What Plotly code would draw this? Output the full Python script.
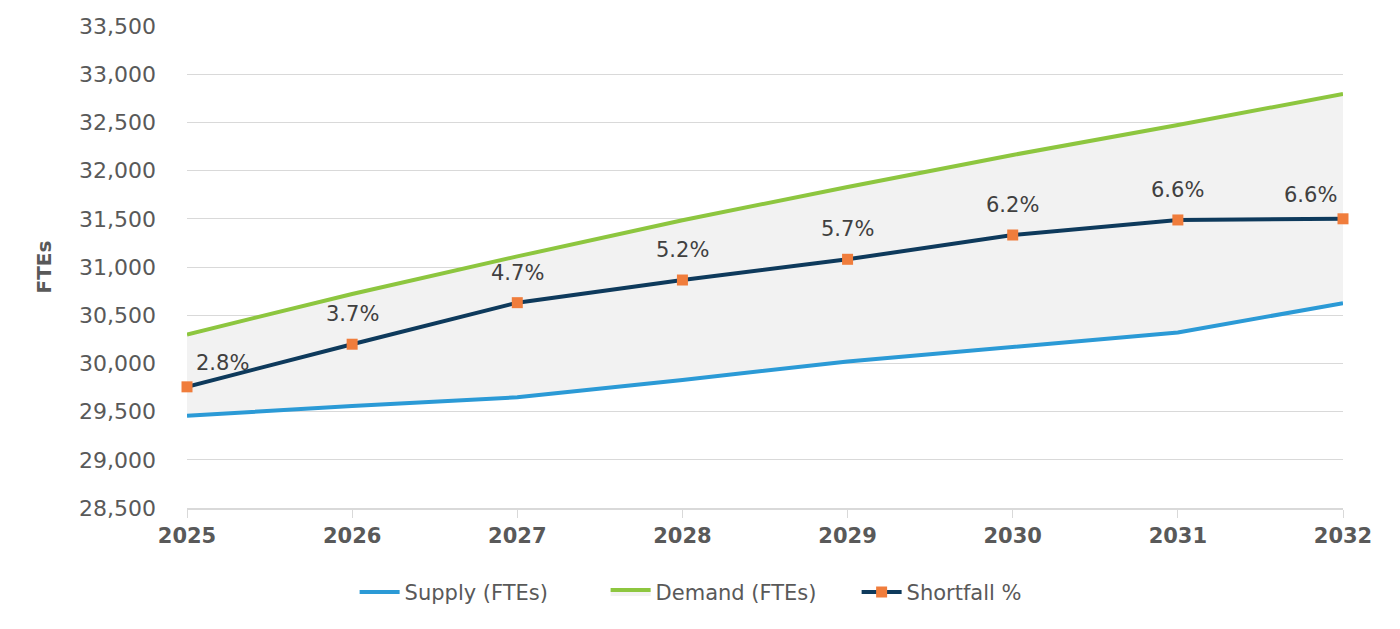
import plotly.graph_objects as go

years = [2025, 2026, 2027, 2028, 2029, 2030, 2031, 2032]
supply = [29457, 29558, 29648, 29828, 30020, 30167, 30320, 30625]
demand = [30300, 30720, 31110, 31485, 31830, 32162, 32473, 32795]
shortfall_pos = [29757, 30199, 30630, 30865, 31080, 31332, 31488, 31500]
shortfall_lbl = ["2.8%", "3.7%", "4.7%", "5.2%", "5.7%", "6.2%", "6.6%", "6.6%"]
y_ticks = [28500, 29000, 29500, 30000, 30500, 31000, 31500, 32000, 32500, 33000, 33500]

FONT = "DejaVu Sans"
GREY_TXT = "#595959"

fig = go.Figure()
fig.add_trace(go.Scatter(x=years, y=supply, mode="lines", name="Supply (FTEs)",
                         line=dict(color="#2b9ad6", width=4)))
fig.add_trace(go.Scatter(x=years, y=demand, mode="lines", name="Demand (FTEs)",
                         line=dict(color="#8dc63f", width=4),
                         fill="tonexty", fillcolor="#f2f2f2"))
fig.add_trace(go.Scatter(x=years, y=shortfall_pos, mode="lines+markers", name="Shortfall %",
                         line=dict(color="#0e3a5c", width=4),
                         marker=dict(symbol="square", size=11, color="#f07d3c"),
                         cliponaxis=False))

for i, (x, y, t) in enumerate(zip(years, shortfall_pos, shortfall_lbl)):
    xshift, yshift = 0, 30
    if i == 0:
        xshift, yshift = 35, 24
    elif i == len(years) - 1:
        xshift, yshift = -33, 24
    fig.add_annotation(x=x, y=y, text=t, showarrow=False, yshift=yshift, xshift=xshift,
                       font=dict(family=FONT, size=21, color="#404040"))

fig.update_layout(
    width=1400, height=629,
    margin=dict(l=179, r=65, t=18, b=129),
    plot_bgcolor="white", paper_bgcolor="white",
    font=dict(family=FONT, color=GREY_TXT),
    showlegend=True,
    legend=dict(orientation="h", x=0.145, xanchor="left", y=-0.175, yanchor="middle",
                font=dict(family=FONT, size=21, color=GREY_TXT),
                entrywidth=196, entrywidthmode="pixels",
                itemwidth=40, traceorder="normal"),
)
fig.update_xaxes(range=[2025, 2032], tickvals=years, ticktext=[str(y) for y in years],
                 showgrid=False, showline=True, linecolor="#d9d9d9", linewidth=1.5,
                 ticks="outside", ticklen=8, tickcolor="#d9d9d9",
                 tickfont=dict(family=FONT, size=21, color=GREY_TXT, weight="bold"),
                 zeroline=False, automargin=False)
fig.update_yaxes(range=[28500, 33500], tickvals=y_ticks, tickformat=",",
                 showgrid=True, gridcolor="#d9d9d9", gridwidth=1.2,
                 tickfont=dict(family=FONT, size=22, color=GREY_TXT),
                 ticklabelstandoff=30,
                 title=dict(text="<b>FTEs</b>", font=dict(family=FONT, size=20, color=GREY_TXT),
                            standoff=22),
                 zeroline=False, automargin=False)

fig.write_html("out.html")
